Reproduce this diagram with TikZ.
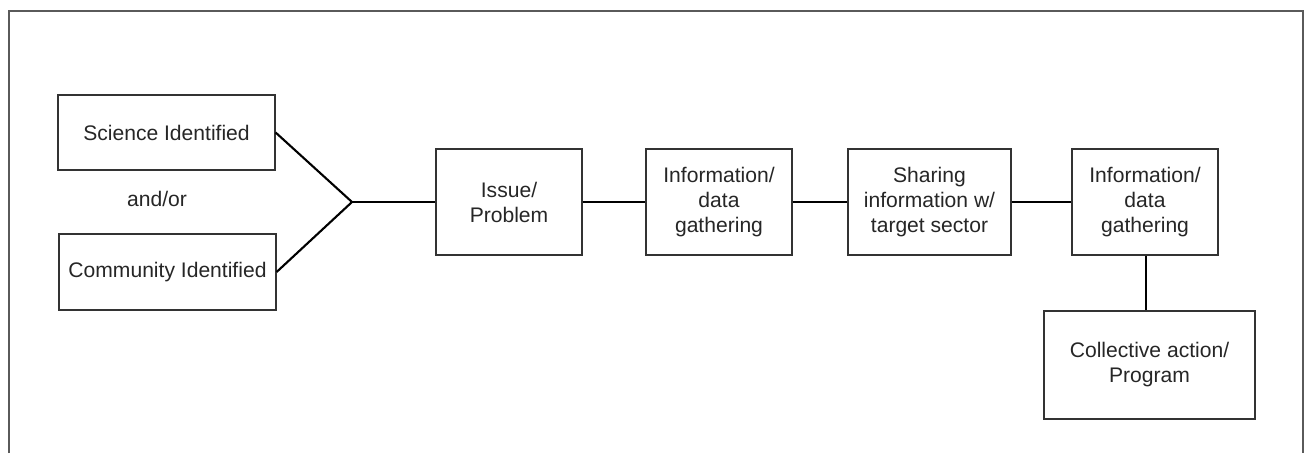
\documentclass[tikz,border=0pt]{standalone}
\usepackage{fontspec}
\setmainfont{Liberation Sans}
\definecolor{framegray}{HTML}{5A5A5A}
\definecolor{boxgray}{HTML}{333333}
\tikzset{
  stagebox/.style={draw=boxgray, line width=0.7pt, align=center, inner sep=2pt,
    font=\fontsize{12}{14.2}\selectfont, text=black!85},
  link/.style={line width=1.2pt, black}
}
\begin{document}
\begin{tikzpicture}[x=0.02cm, y=-0.02cm]
      \useasboundingbox (0,0) rectangle (1304,453);
      \draw[framegray, line width=0.8pt] (9,453) -- (9,11) -- (1303,11) -- (1303,453);
      \draw
        (166.5,132.5) node[stagebox, minimum width=217*0.02cm, minimum height=75*0.02cm] (sci){Science Identified}
        (167.5,272) node[stagebox, minimum width=217*0.02cm, minimum height=76*0.02cm] (com){Community Identified}
        (509,202) node[stagebox, minimum width=146*0.02cm, minimum height=106*0.02cm] (issue){Issue/\\Problem}
        (719,202) node[stagebox, minimum width=146*0.02cm, minimum height=106*0.02cm] (info1){Information/\\data\\gathering}
        (929.5,202) node[stagebox, minimum width=163*0.02cm, minimum height=106*0.02cm] (share){Sharing\\information w/\\target sector}
        (1145,202) node[stagebox, minimum width=146*0.02cm, minimum height=106*0.02cm] (info2){Information/\\data\\gathering}
        (1149.5,365) node[stagebox, minimum width=211*0.02cm, minimum height=108*0.02cm] (act){Collective action/\\Program};
      \node[font=\fontsize{12}{14.2}\selectfont, text=black!85] (andor) at (157,199) {and/or};
      \coordinate (join) at (352,202);
      \begin{scope}[link]
        \draw (sci.east) to (join);
        \draw (com.east) to (join);
        \draw (join) to (issue.west);
        \draw (issue) to (info1);
        \draw (info1) to (share);
        \draw (share) to (info2);
        \draw (info2.south -| 1146,0) to (act.north -| 1146,0);
      \end{scope}
    \end{tikzpicture}
\end{document}
